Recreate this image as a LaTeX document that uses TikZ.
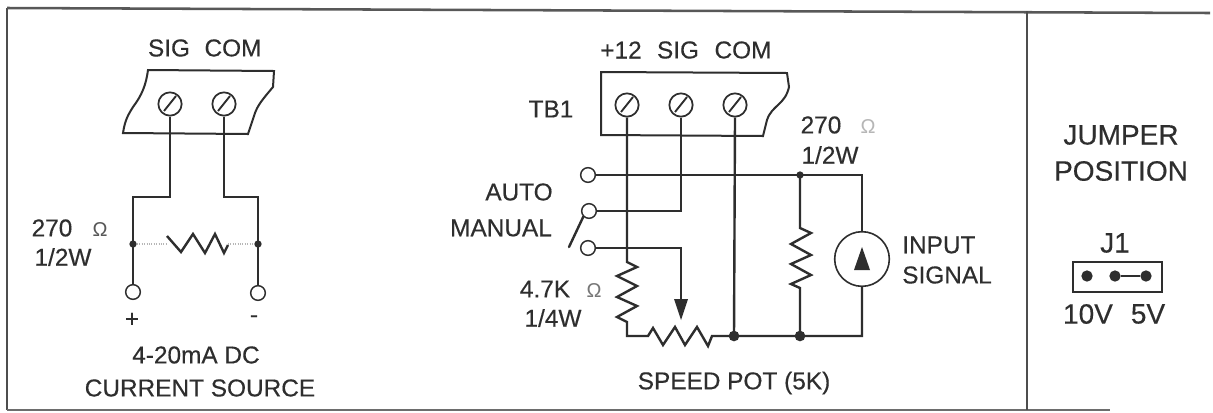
\documentclass[tikz,border=0pt]{standalone}
\usepackage{fontspec}
\setmainfont{Liberation Sans}[BoldFont={Liberation Sans},BoldFeatures={FakeBold=0.35}]
\usetikzlibrary{calc}
\definecolor{ink}{HTML}{2E2E2E}
\tikzset{
  x=0.75pt, y=-0.75pt,
  wire/.style={draw=ink, line width=1.8pt, line join=miter},
  slot/.style={draw=ink, line width=1.4pt},
  lbl/.style={inner sep=0pt, text=ink, font=\fontsize{18.3}{20}\selectfont\bfseries},
  biglbl/.style={inner sep=0pt, text=ink, font=\fontsize{21}{24}\selectfont\bfseries},
  ohm/.style={inner sep=0pt, font=\fontsize{15}{16}\selectfont},
  term/.style={circle, draw=ink, line width=1.1pt, fill=white, minimum size=11pt, inner sep=0pt},
  screw/.style={circle, draw=ink, line width=1.3pt, fill=white, minimum size=17.5pt, inner sep=0pt},
  jdot/.style={circle, fill=ink, minimum size=5.5pt, inner sep=0pt},
  jpin/.style={circle, fill=ink, minimum size=8.5pt, inner sep=0pt},
  pin/.style={circle, fill=ink, minimum size=8pt, inner sep=0pt},
  meter/.style={circle, draw=ink, line width=1.2pt, fill=white, minimum size=41pt, inner sep=0pt},
}
\begin{document}
\begin{tikzpicture}
\useasboundingbox (0,0) rectangle (1213,412);
\fill[white] (0,0) rectangle (1213,412);
% frame
\draw[draw=ink!85, line width=1.9pt] (7,8) -- (7,410);
\draw[draw=ink!80, line width=1.9pt] (7,8) -- (1210,13);
\draw[draw=ink!70, line width=1.7pt] (7,410) -- (1110,410);
\draw[draw=ink!85, line width=1.6pt] (1027,11) -- (1027,410);

% ---- left circuit
\draw[wire, line width=1.5pt] (148,70) -- (274,71) -- (273,87) .. controls (262,100) and (258,105) .. (255,113) -- (248,134) -- (123,133)
   .. controls (125,120) and (128,115) .. (133,107) .. controls (142,95) and (146,85) .. (148,70) -- cycle;
\node[screw] (sa) at (170,104) {};
\node[screw] (sb) at (224,104) {};
\draw[slot] ($(sa)+(-6,7)$) -- ($(sa)+(6,-8)$);
\draw[slot] ($(sb)+(-6,7)$) -- ($(sb)+(6,-8)$);
\node[term] (ta) at (133,292) {};
\node[term] (tb) at (258,293) {};
\node[jdot] (ja) at (133,244) {};
\node[jdot] (jb) at (258,244) {};
\draw[wire] (sa.south) -- (170,197) -- (133,197) -- (ja.center) -- (ta.north);
\draw[wire] (sb.south) -- (224,197) -- (258,197) -- (jb.center) -- (tb.north);
\draw[draw=ink!35, line width=0.8pt, densely dotted] (ja) -- (167,244) (228,244) -- (jb);
\draw[wire] (167,236) -- (181,252) -- (193,234) -- (205,253) -- (215,234) -- (224,253) -- (228,245);
\node[lbl] (ls) at (169,48) {SIG};
\node[lbl] (lc) at (233,48) {COM};
\node[lbl] (r1) at (52,228) {270};
\node[ohm, text=ink!80] (o1) at (100,230) {Ω};
\node[lbl] (r2) at (63,257) {1/2W};
\node[lbl] (pl) at (132,320) {+};
\node[lbl] (mi) at (254,319) {-};
\node[lbl] (c1) at (196,355) {4-20mA DC};
\node[lbl] (c2) at (200,388) {CURRENT SOURCE};

% ---- centre circuit
\draw[wire, line width=1.5pt] (601,72) -- (787,73) -- (789,87) .. controls (785,105) and (772,105) .. (767,120) -- (763,136) -- (601,135) -- cycle;
\node[screw] (sc) at (627,105) {};
\node[screw] (sd) at (681,105) {};
\node[screw] (se) at (735,105) {};
\draw[slot] ($(sc)+(-6,7)$) -- ($(sc)+(6,-8)$);
\draw[slot] ($(sd)+(-6,7)$) -- ($(sd)+(6,-8)$);
\draw[slot] ($(se)+(-6,7)$) -- ($(se)+(6,-8)$);
\node[term] (auto) at (588,175) {};
\node[term] (man) at (589,211) {};
\node[term] (pot) at (588,248) {};
\node[meter] (m) at (862,259) {};
\node[pin] (j1) at (734,336) {};
\node[pin] (j2) at (800,336) {};
\node[jdot] (j3) at (800,175) {};
% wires
\draw[wire] (sc.south) -- (627,262) -- (637,267) -- (617,276) -- (637,286) -- (617,297) -- (637,306) -- (617,317) -- (627,322) -- (627,336) -- (648,336)
   -- (653,328) -- (663,345) -- (675,327) -- (685,345) -- (697,327) -- (708,346) -- (712,336) -- (j1.center) -- (j2.center) -- (862,336) -- (m.south);
\draw[wire] (sd.south) -- (681,211) -- (man.east);
\draw[wire] (se.south) -- (j1.center);
\draw[wire] (auto.east) -- (j3.center) -- (862,175) -- (m.north);
\draw[wire] (j3.center) -- (800,228) -- (811,233) -- (791,244) -- (811,255) -- (791,264) -- (811,275) -- (791,284) -- (800,288) -- (j2.center);
\coordinate (tip) at (681,320);
\draw[wire] (pot.east) -- (681,248) -- (681,302);
\fill[ink] (tip) -- (674,299) -- (688,299) -- cycle;
\coordinate (sw1) at (569,247);
\draw[wire, line cap=round] (sw1) -- (man.south west);
\fill[ink] (862,247) -- (870,270) -- (854,270) -- cycle;
\node[lbl] (h1) at (621,50) {+12};
\node[lbl] (h2) at (678,50) {SIG};
\node[lbl] (h3) at (743,50) {COM};
\node[lbl] (tb1) at (551,109) {TB1};
\node[lbl] (au) at (519,192) {AUTO};
\node[lbl] (mn) at (501,228) {MANUAL};
\node[lbl] (k1) at (545,289) {4.7K};
\node[ohm, text=ink!65] (o2) at (594,291) {Ω};
\node[lbl] (k2) at (553,318) {1/4W};
\node[lbl] (sp) at (734,383) {SPEED POT (5K)};
\node[lbl] (q1) at (821,125) {270};
\node[ohm, text=ink!35] (o3) at (868,127) {Ω};
\node[lbl] (q2) at (830,155) {1/2W};
\node[lbl, anchor=west] (i1) at (902,245) {INPUT};
\node[lbl, anchor=west] (i2) at (902,275) {SIGNAL};

% ---- jumper panel
\node[biglbl] (jp1) at (1121,135) {JUMPER};
\node[biglbl] (jp2) at (1121,171) {POSITION};
\node[biglbl] (jn) at (1115,243) {J1};
\draw[wire, line width=1.5pt] (1073,262) rectangle (1162,292);
\node[jpin] (da) at (1087,276) {};
\node[jpin] (db) at (1115,276) {};
\node[jpin] (dc) at (1146,276) {};
\draw[wire, line width=2.2pt] (db) -- (dc);
\node[biglbl] (v1) at (1088,314) {10V};
\node[biglbl] (v2) at (1148,314) {5V};
\end{tikzpicture}
\end{document}
